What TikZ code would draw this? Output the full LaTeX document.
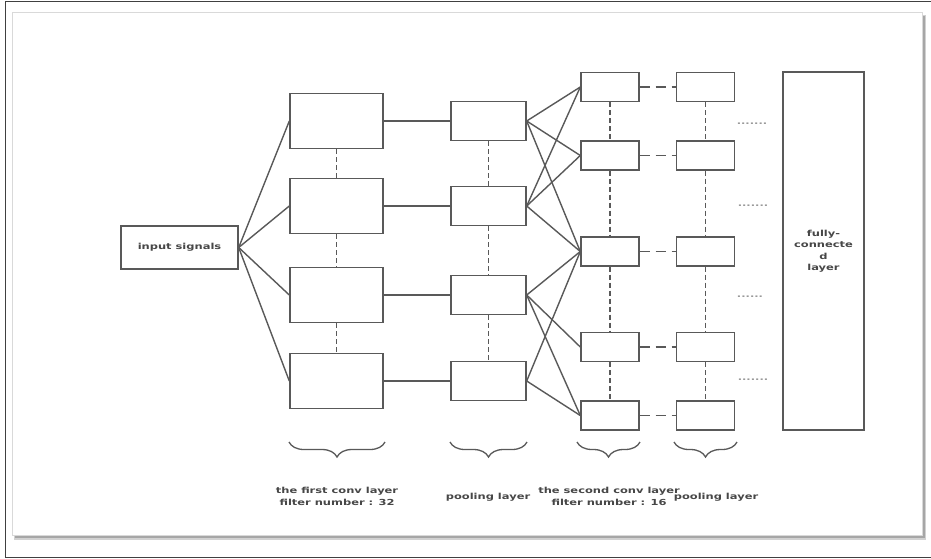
\documentclass[tikz,border=0pt]{standalone}
\usepackage{fontspec}
\usepackage{tikz}
\newfontfamily\lblfont[FakeStretch=1.38]{DejaVu Sans}
\usetikzlibrary{positioning, decorations.pathreplacing}

\begin{document}
\begin{tikzpicture}[x=1pt, y=-1pt,
  unit/.style={draw=black!65, line width=1.4pt, inner sep=0pt},
  convbox/.style={unit, minimum width=93pt, minimum height=55pt},
  poolbox/.style={unit, minimum width=75pt, minimum height=39pt},
  smallbox/.style={unit, minimum width=58pt, minimum height=29pt},
  link/.style={black!65, line width=1.4pt},
  coldash/.style={black!65, line width=1.4pt, dash pattern=on 5pt off 3pt},
  rowdash/.style={black!65, line width=1.4pt, dash pattern=on 10pt off 6pt},
  lbl/.style={font=\lblfont\bfseries\fontsize{8.3}{11.5}\selectfont, text=black!72, align=center},
  dotrow/.style={lbl, text=black!40, inner sep=0pt},
  layerbrace/.style={decorate, decoration={brace, amplitude=15pt}, black!65, line width=1.3pt}]
\useasboundingbox (0,0) rectangle (931,558);
% frames
\draw[black!75, line width=1pt] (931,1) -- (5,1) -- (5,557) -- (931,557);
\fill[black!18] (14,15) rectangle (926,540);
\fill[black!35] (15,16) rectangle (925,538);
\draw[black!15, fill=white] (12,12) rectangle (922,535);

\node[unit, lbl, minimum width=117pt, minimum height=43pt] (in) at (179.5,247.5) {input signals};

% first conv layer and pooling
\foreach \y [count=\i] in {121,206,295,381} {
  \node[convbox] (conva\i) at (336.5,\y) {};
  \node[poolbox] (poola\i) at (488.5,\y) {};
  \draw[link] (in.east) -- (conva\i.west);
  \draw[link] (conva\i) -- (poola\i);
}
\foreach \i/\j in {1/2,2/3,3/4} {
  \draw[coldash] (conva\i) -- (conva\j);
  \draw[coldash] (poola\i) -- (poola\j);
}

% second conv layer and pooling
\foreach \y [count=\i] in {87,155.5,251.5,347,415.5} {
  \node[smallbox] (convb\i) at (610,\y) {};
  \node[smallbox] (poolb\i) at (705.5,\y) {};
  \draw[rowdash] (convb\i) -- (poolb\i);
}
\foreach \i/\j in {1/2,2/3,3/4,4/5} {
  \draw[coldash] (convb\i) -- (convb\j);
  \draw[coldash] (poolb\i) -- (poolb\j);
}
\foreach \a/\b in {1/1,1/2,1/3,2/1,2/2,2/3,3/3,3/4,3/5,4/3,4/5}
  \draw[link] (poola\a.east) -- (convb\b.west);

\node[unit, lbl, minimum width=81pt, minimum height=358pt] (fc) at (823.5,251) {fully-\\connecte\\d\\layer};

\node[dotrow] (dots1) at (752,124) {.......};
\node[dotrow] (dots2) at (753,206) {.......};
\node[dotrow] (dots3) at (750,297) {......};
\node[dotrow] (dots4) at (753,380) {.......};

% braces and layer names
\draw[layerbrace] (385,442) -- (289,442);
\draw[layerbrace] (527,442) -- (450,442);
\draw[layerbrace] (640,442) -- (577,442);
\draw[layerbrace] (737,442) -- (674,442);
\node[lbl] (name1) at (337,496.5) {the first conv layer\\filter number : 32};
\node[lbl] (name2) at (488,497) {pooling layer};
\node[lbl] (name3) at (609,496.5) {the second conv layer\\filter number : 16};
\node[lbl] (name4) at (716,497) {pooling layer};
\end{tikzpicture}
\end{document}
